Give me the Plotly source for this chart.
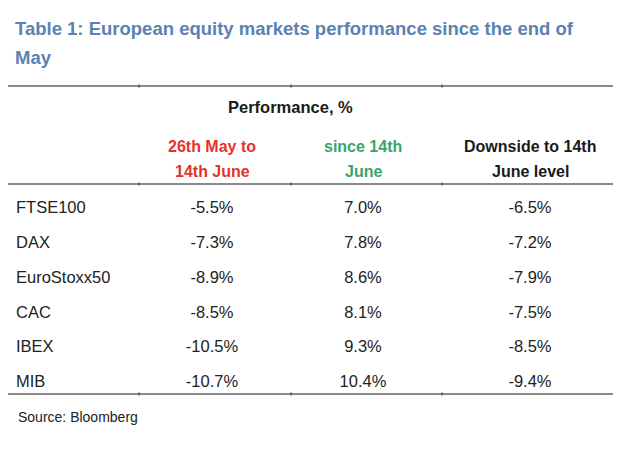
import plotly.graph_objects as go

# ---- data ----
indices = ["FTSE100", "DAX", "EuroStoxx50", "CAC", "IBEX", "MIB"]
perf_may_to_jun = [-5.5, -7.3, -8.9, -8.5, -10.5, -10.7]
since_jun = [7.0, 7.8, 8.6, 8.1, 9.3, 10.4]
downside = [-6.5, -7.2, -7.9, -7.5, -8.5, -9.4]
col_headers = [["26th May to", "14th June"], ["since 14th", "June"], ["Downside to 14th", "June level"]]
header_colors = ["#e5332a", "#3aa56b", "#1a1a1a"]
title_lines = ["Table 1: European equity markets performance since the end of", "May"]
group_header = "Performance, %"
source = "Source: Bloomberg"

# ---- layout constants ----
W, H = 630, 451
OFF = 8  # page body margin
FONT = "Liberation Sans, Arial, sans-serif"
col_x = [212, 363, 530]
label_x = 16
row0, row_step = 209, 34.8
rules_y = [86, 184, 394]
dividers_x = [139, 291, 442]
title_y = [28, 57]
header_y = [146, 171]

fig = go.Figure()

row_y = [row0 + i * row_step for i in range(len(indices))]

# row labels
fig.add_trace(go.Scatter(
    x=[label_x] * len(indices), y=row_y, mode="text", text=indices,
    textposition="middle right", textfont=dict(family=FONT, size=16.5, color="#222"),
    hoverinfo="skip", showlegend=False))

for cx, series in zip(col_x, [perf_may_to_jun, since_jun, downside]):
    fig.add_trace(go.Scatter(
        x=[cx] * len(series), y=row_y, mode="text",
        text=[f"{v:.1f}%" for v in series],
        textposition="middle center", textfont=dict(family=FONT, size=16.5, color="#222"),
        hoverinfo="skip", showlegend=False))

annotations = []
for ty, tl in zip(title_y, title_lines):
    annotations.append(dict(x=13, y=ty, text=f"<b>{tl}</b>", xanchor="left", yanchor="middle",
                            align="left", showarrow=False,
                            font=dict(family=FONT, size=18.5, color="#5b82b3")))
annotations += [
    dict(x=290, y=107, text=f"<b>{group_header}</b>", showarrow=False,
         font=dict(family=FONT, size=16.5, color="#1a1a1a")),
    dict(x=16, y=417, text=source, xanchor="left", showarrow=False,
         font=dict(family=FONT, size=14, color="#222")),
]
for cx, lines, c in zip(col_x, col_headers, header_colors):
    for hy, txt in zip(header_y, lines):
        annotations.append(dict(x=cx, y=hy, text=f"<b>{txt}</b>", showarrow=False,
                                font=dict(family=FONT, size=16, color=c)))

shapes = []
for ry in rules_y:
    shapes.append(dict(type="line", x0=0, x1=613, y0=ry, y1=ry,
                       line=dict(color="#8a8a8a", width=2)))
    for dx in dividers_x:
        shapes.append(dict(type="line", x0=dx, x1=dx, y0=ry - 1.5, y1=ry + 1.5,
                           line=dict(color="#555", width=1.5)))
for s in shapes:
    s.update(xref="x", yref="y")
for a in annotations:
    a.update(xref="x", yref="y")

fig.update_layout(
    width=W, height=H, margin=dict(l=0, r=0, t=0, b=0),
    paper_bgcolor="white", plot_bgcolor="white",
    xaxis=dict(range=[OFF, W + OFF], visible=False, fixedrange=True),
    yaxis=dict(range=[H + OFF, OFF], visible=False, fixedrange=True),
    annotations=annotations, shapes=shapes, showlegend=False,
)

fig.write_html("out.html")
